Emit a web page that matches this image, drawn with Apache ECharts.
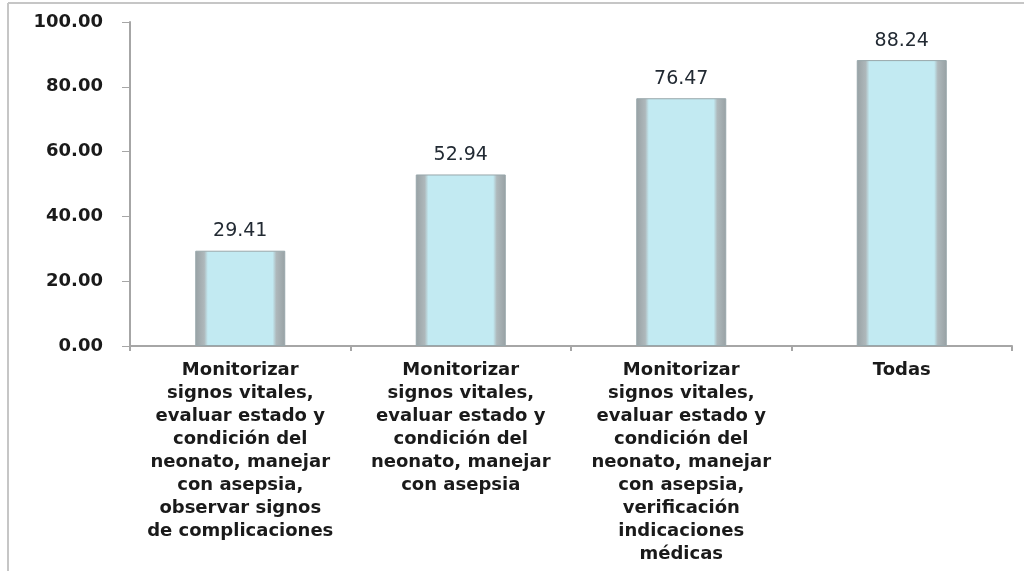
<!DOCTYPE html>
<html>
<head>
<meta charset="utf-8">
<title>chart</title>
<script src="https://cdn.jsdelivr.net/npm/echarts@6/dist/echarts.min.js"></script>
<style>
  html, body { margin: 0; padding: 0; background: #fff; }
  #main { width: 1024px; height: 571px; }
</style>
</head>
<body>
<div id="main"></div>
<script>
// categorias (con saltos de linea como en el original)
var categories = [
  'Monitorizar\nsignos vitales,\nevaluar estado y\ncondición del\nneonato, manejar\ncon asepsia,\nobservar signos\nde complicaciones',
  'Monitorizar\nsignos vitales,\nevaluar estado y\ncondición del\nneonato, manejar\ncon asepsia',
  'Monitorizar\nsignos vitales,\nevaluar estado y\ncondición del\nneonato, manejar\ncon asepsia,\nverificación\nindicaciones\nmédicas',
  'Todas'
];
var values = [29.41, 52.94, 76.47, 88.24];
var yTicks = { min: 0, max: 100, interval: 20 };

var font = 'DejaVu Sans';

var chart = echarts.init(document.getElementById('main'));
chart.setOption({
  animation: false,
  grid: { left: 130, right: 12, top: 22, bottom: 225 },
  graphic: [
    { type: 'line', shape: { x1: 8, y1: 3, x2: 1024, y2: 3 }, style: { stroke: '#c6c6c6', lineWidth: 2 } },
    { type: 'line', shape: { x1: 8, y1: 3, x2: 8, y2: 571 }, style: { stroke: '#c6c6c6', lineWidth: 2 } }
  ],
  xAxis: {
    type: 'category',
    data: categories,
    boundaryGap: true,
    axisLine: { lineStyle: { color: '#a6a6a6', width: 2 } },
    axisTick: { show: true, length: 5, lineStyle: { color: '#a6a6a6', width: 2 } },
    axisLabel: {
      interval: 0,
      margin: 13,
      color: '#1a1a1a',
      fontFamily: font,
      fontWeight: 'bold',
      fontSize: 18,
      lineHeight: 23,
      align: 'center'
    }
  },
  yAxis: {
    type: 'value',
    min: yTicks.min,
    max: yTicks.max,
    interval: yTicks.interval,
    splitLine: { show: false },
    axisLine: { show: true, lineStyle: { color: '#a6a6a6', width: 2 } },
    axisTick: { show: true, length: 8, lineStyle: { color: '#a6a6a6', width: 1 } },
    axisLabel: {
      margin: 27,
      color: '#1a1a1a',
      fontFamily: font,
      fontWeight: 'bold',
      fontSize: 18,
      formatter: function (v) { return v.toFixed(2); }
    }
  },
  series: [{
    type: 'bar',
    data: values,
    barWidth: 90,
    itemStyle: {
      color: new echarts.graphic.LinearGradient(0, 0, 1, 0, [
        { offset: 0, color: '#98a1a4' },
        { offset: 0.1, color: '#aeb8bb' },
        { offset: 0.14, color: '#c2eaf2' },
        { offset: 0.86, color: '#c2eaf2' },
        { offset: 0.9, color: '#aeb8bb' },
        { offset: 1, color: '#98a1a4' }
      ]),
      borderColor: '#98a7ab',
      borderWidth: 1
    },
    label: {
      show: true,
      position: 'top',
      distance: 10,
      color: '#222a33',
      fontFamily: font,
      fontSize: 19,
      formatter: function (p) { return p.value.toFixed(2); }
    }
  }]
});
</script>
</body>
</html>
